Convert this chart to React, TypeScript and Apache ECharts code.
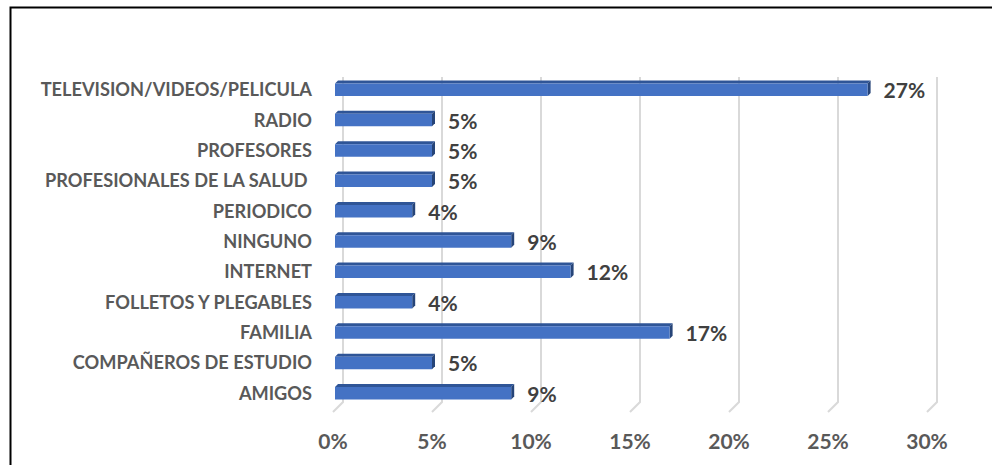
import React, { useEffect, useRef } from "react";
import * as echarts from "echarts";

const categories = [
  "TELEVISION/VIDEOS/PELICULA",
  "RADIO",
  "PROFESORES",
  "PROFESIONALES DE LA SALUD ",
  "PERIODICO",
  "NINGUNO",
  "INTERNET",
  "FOLLETOS Y PLEGABLES",
  "FAMILIA",
  "COMPAÑEROS DE ESTUDIO",
  "AMIGOS",
];
const values = [27, 5, 5, 5, 4, 9, 12, 4, 17, 5, 9];
const xTicks = [0, 5, 10, 15, 20, 25, 30];

const FONT = "Lato, 'Open Sans', sans-serif";

export default function App() {
  const ref = useRef<HTMLDivElement>(null);
  useEffect(() => {
    if (!ref.current) return;
    const chart = echarts.init(ref.current, undefined, { renderer: "svg" });
    const barH = 12.5;
    const d = 3;
    chart.setOption({
      animation: false,
      backgroundColor: "#ffffff",
      grid: { left: 333, right: 65, top: 74, bottom: 57, containLabel: false },
      xAxis: {
        type: "value",
        min: 0,
        max: 30,
        interval: 5,
        axisLine: { show: false },
        axisTick: { show: false },
        splitLine: { show: false },
        axisLabel: {
          formatter: "{value}%",
          fontFamily: FONT,
          fontWeight: "bold",
          fontSize: 21,
          color: "#595959",
          margin: 22,
        },
      },
      yAxis: {
        type: "category",
        inverse: true,
        data: categories,
        axisLine: { show: false },
        axisTick: { show: false },
        splitLine: { show: false },
        axisLabel: {
          fontFamily: FONT,
          fontWeight: "bold",
          fontSize: 18.2,
          color: "#595959",
          margin: 21,
          padding: [5, 0, 0, 0],
        },
      },
      graphic: [
        {
          type: "polyline",
          shape: { points: [[10.5, 480], [10.5, 7.5], [1000, 7.5]] },
          style: { stroke: "#000000", lineWidth: 2, fill: null },
          silent: true,
          z: 100,
        },
      ],
      series: [
        {
          type: "custom",
          z: 1,
          silent: true,
          data: xTicks.map((t) => [t, 0]),
          encode: { x: 0, y: 1 },
          renderItem: (params: any, api: any) => {
            const cs = params.coordSys;
            const x = api.coord([api.value(0), 0])[0];
            const top = cs.y + 3;
            const bottom = cs.y + cs.height;
            return {
              type: "polyline",
              shape: {
                points: [
                  [x + 10, top],
                  [x + 10, bottom - 6],
                  [x, bottom + 4],
                ],
              },
              style: { stroke: "#D9D9D9", lineWidth: 2, fill: null },
            };
          },
        },
        {
          type: "custom",
          z: 2,
          data: values.map((v, i) => [v, i]),
          encode: { x: 0, y: 1 },
          renderItem: (params: any, api: any) => {
            const v = api.value(0);
            const idx = api.value(1);
            const start = api.coord([0, idx]);
            const end = api.coord([v, idx]);
            const x0 = start[0] + 2;
            const x1 = end[0];
            const yc = end[1] + 0.5;
            const yT = yc - barH / 2;
            const yB = yc + barH / 2;
            return {
              type: "group",
              children: [
                {
                  type: "polygon",
                  shape: {
                    points: [
                      [x0, yT],
                      [x0 + d, yT - d],
                      [x1 + d, yT - d],
                      [x1, yT],
                    ],
                  },
                  style: { fill: "#2F5597" },
                },
                {
                  type: "polygon",
                  shape: {
                    points: [
                      [x1, yT],
                      [x1 + d, yT - d],
                      [x1 + d, yB - d],
                      [x1, yB],
                    ],
                  },
                  style: { fill: "#264478" },
                },
                {
                  type: "rect",
                  shape: { x: x0, y: yT, width: x1 - x0, height: barH },
                  style: { fill: "#4472C4" },
                },
                {
                  type: "text",
                  x: x1 + 16,
                  y: yc,
                  style: {
                    text: `${v}%`,
                    fontFamily: FONT,
                    fontWeight: "bold",
                    fontSize: 21,
                    fill: "#404040",
                    verticalAlign: "middle",
                    align: "left",
                  },
                },
              ],
            };
          },
        },
      ],
    });
    return () => chart.dispose();
  }, []);
  return (
    <div
      ref={ref}
      style={{ position: "fixed", left: 0, top: 0, width: 992, height: 465, background: "#fff" }}
    />
  );
}
